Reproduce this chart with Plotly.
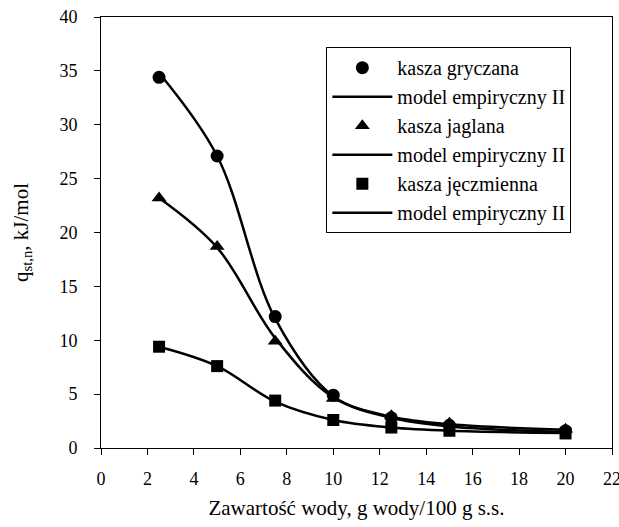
import plotly.graph_objects as go

x_vals = [2.5, 5, 7.5, 10, 12.5, 15, 20]

gryczana = [34.4, 27.1, 12.2, 4.9, 2.8, 2.1, 1.6]
gryczana_model = [34.8, 27.1, 12.0, 4.8, 2.8, 2.0, 1.5]

jaglana = [23.2, 18.7, 9.9, 4.6, 3.0, 2.3, 1.75]
jaglana_model = [23.2, 18.6, 10.2, 4.7, 2.9, 2.2, 1.7]

jeczmienna = [9.4, 7.6, 4.4, 2.6, 1.9, 1.6, 1.35]
jeczmienna_model = [9.4, 7.6, 4.3, 2.6, 1.9, 1.6, 1.4]

x_ticks = list(range(0, 23, 2))
y_ticks = list(range(0, 41, 5))

FONT = "Liberation Serif"
line_style = dict(color="black", width=2.5, shape="spline", smoothing=1.0)

fig = go.Figure()

series = [
    ("kasza gryczana", gryczana, gryczana_model, "circle", 13),
    ("kasza jaglana", jaglana, jaglana_model, "triangle-up", 13),
    ("kasza jęczmienna", jeczmienna, jeczmienna_model, "square", 12),
]
for name, pts, model, sym, size in series:
    fig.add_trace(go.Scatter(
        x=x_vals, y=pts, mode="markers", name=name,
        marker=dict(symbol=sym, size=size, color="black"),
    ))
    fig.add_trace(go.Scatter(
        x=x_vals, y=model, mode="lines", name="model empiryczny II",
        line=line_style,
    ))

axis_common = dict(
    showline=True, linecolor="black", linewidth=1, mirror=True,
    showgrid=False, zeroline=False, ticks="outside", ticklen=6,
    tickcolor="black", tickwidth=1,
    tickfont=dict(family=FONT, size=18, color="black"),
    ticklabeloverflow="allow", automargin=False,
)

fig.update_xaxes(
    range=[0, 22], tickvals=x_ticks, ticklabelstandoff=8,
    title=dict(text="Zawartość wody, g wody/100 g s.s.",
               font=dict(family=FONT, size=21, color="black"), standoff=12),
    **axis_common,
)
fig.update_yaxes(
    range=[0, 40], tickvals=y_ticks, ticklabelstandoff=13,
    title=dict(text="q<sub>st,n</sub>, kJ/mol",
               font=dict(family=FONT, size=21, color="black"), standoff=25),
    **axis_common,
)

fig.update_layout(
    width=619, height=527,
    margin=dict(l=101, r=7, t=17, b=79, autoexpand=False),
    paper_bgcolor="white", plot_bgcolor="white",
    font=dict(family=FONT, size=18, color="black"),
    showlegend=True,
    legend=dict(
        x=0.441, y=0.930, xanchor="left", yanchor="top",
        bgcolor="white", bordercolor="black", borderwidth=1,
        font=dict(family=FONT, size=20, color="black"),
        itemwidth=60,
    ),
)

fig.write_html("out.html")
